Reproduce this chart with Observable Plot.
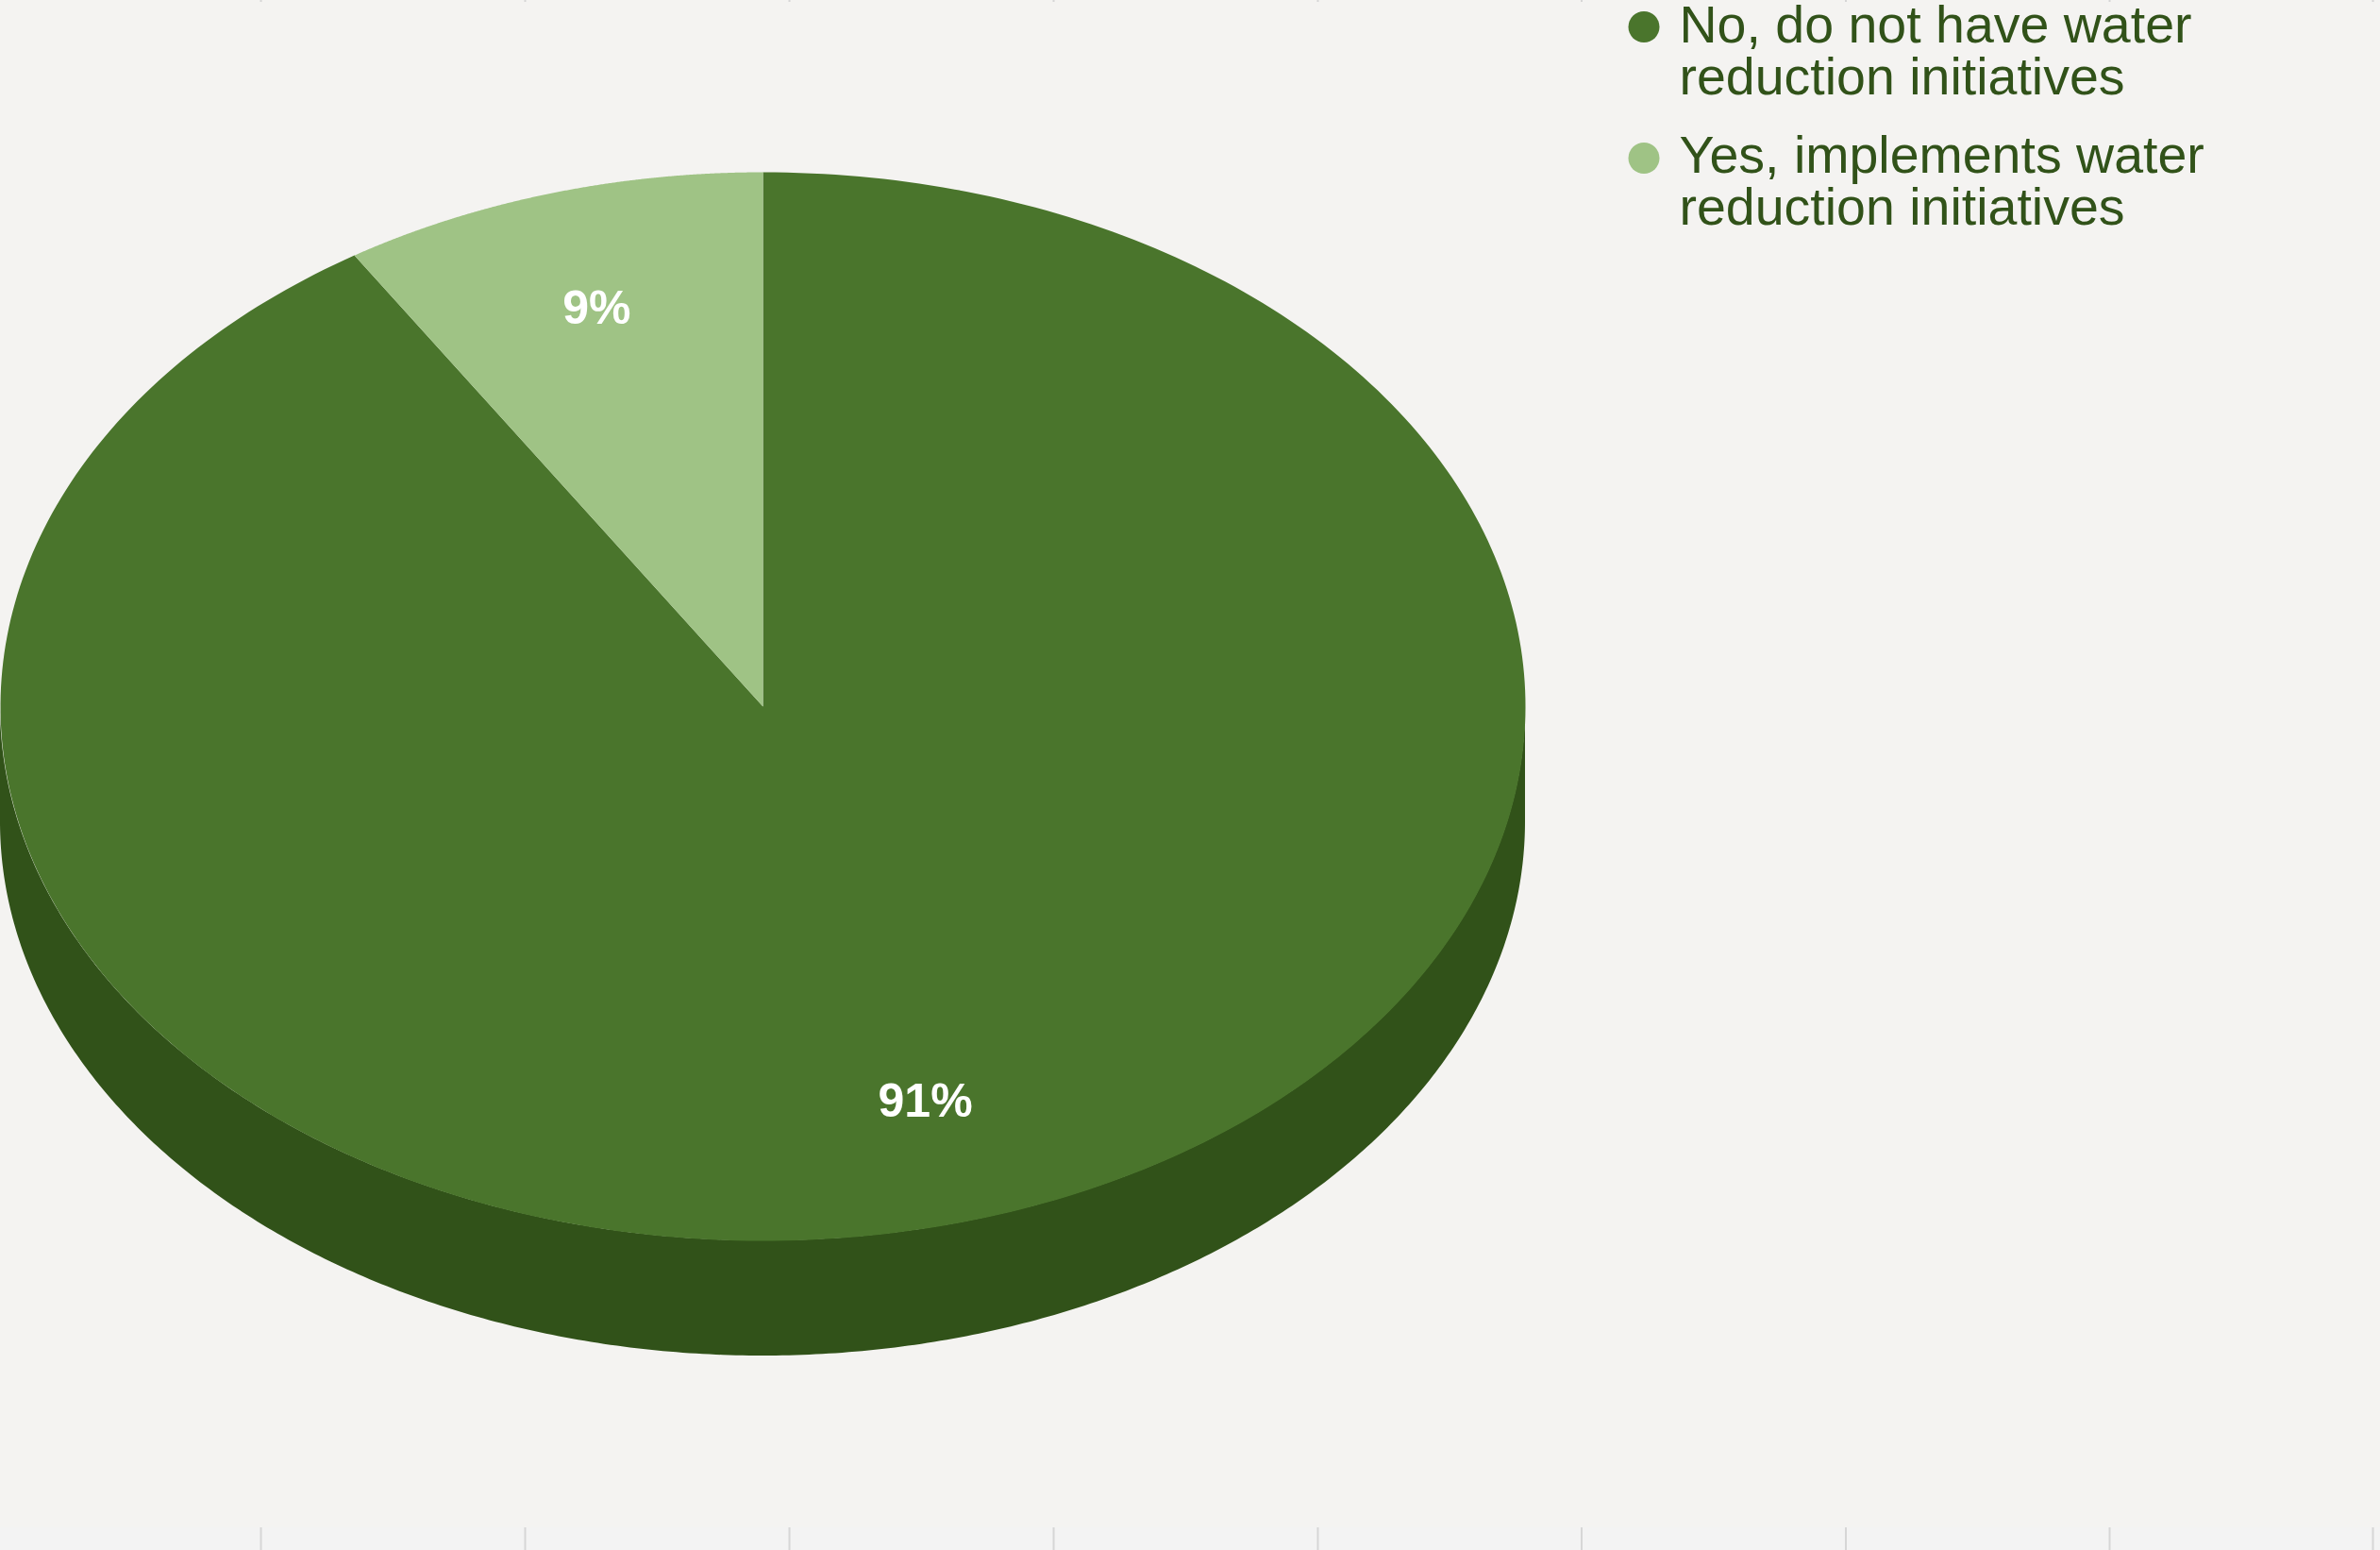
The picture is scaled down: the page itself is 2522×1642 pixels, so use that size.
<!DOCTYPE html>
<html>
<head>
<meta charset="utf-8">
<script src="https://cdn.jsdelivr.net/npm/d3@7"></script>
<script src="https://cdn.jsdelivr.net/npm/@observablehq/plot@0.6"></script>
<style>
html,body{margin:0;padding:0;background:#f4f3f1;}
svg{display:block;}
</style>
</head>
<body>
<div id="chart"></div>
<script>
const categories = ["No, do not have water\nreduction initiatives", "Yes, implements water\nreduction initiatives"];
const shares = [91, 9];
const sliceLabels = ["91%", "9%"];
const colors = ["#4a752c", "#9fc385"];
const tickPositions = [-0.6584, -0.3119, 0.0347, 0.3812, 0.7277, 1.0736, 1.4202, 1.7661, 2.1114];

const sideColor = "#315219";
const depth = 122 / 566;
const labelRadii = [0.77, 0.775];
const yBottomEdge = -(1642 - 748) / 566, yTickTop = -(1618 - 748) / 566;
const yTopEdge = 748 / 566, yTopTick = (748 - 2) / 566;
const xLeftEdge = -1, xRightEdge = (2522 - 808) / 808;

const rad = Math.PI / 180;
const total = d3.sum(shares);
let start = 0;
const slices = shares.map((s, i) => {
  const a0 = start, a1 = start + (s / total) * 360;
  start = a1;
  return {name: categories[i], label: sliceLabels[i], a0, a1, mid: (a0 + a1) / 2, r: labelRadii[i]};
});
const ring = (a0, a1) => d3.range(0, 361).map(k => a0 + (a1 - a0) * k / 360);
const slicePoints = slices.flatMap(s => [
  {name: s.name, x: 0, y: 0},
  ...ring(s.a0, s.a1).map(a => ({name: s.name, x: Math.sin(a * rad), y: Math.cos(a * rad)}))
]);
const rim = ring(90, 270).map(a => ({x: Math.sin(a * rad), y1: Math.cos(a * rad), y2: Math.cos(a * rad) - depth}));

const legendX = 1741.5, textX = 1779;
const legendDotY = [28, 167], legendTextY = [54.8, 192.8];

const chart = Plot.plot({
  width: 2522,
  height: 1642,
  margin: 0,
  style: {background: "transparent", overflow: "visible"},
  x: {domain: [-1, 1], range: [0, 1616], axis: null},
  y: {domain: [-1, 1], range: [1314, 182], axis: null},
  color: {domain: categories, range: colors},
  marks: [
    Plot.rect([0], {x1: xLeftEdge, x2: xRightEdge, y1: yBottomEdge, y2: yTickTop, fill: "#f3f3f3"}),
    Plot.ruleX(tickPositions, {x: d => d, y1: yBottomEdge, y2: yTickTop, stroke: "#d6d6d6", strokeWidth: 2}),
    Plot.ruleX(tickPositions, {x: d => d, y1: yTopEdge, y2: yTopTick, stroke: "#d6d6d6", strokeWidth: 2}),
    Plot.areaY(rim, {x: "x", y1: "y1", y2: "y2", fill: sideColor}),
    Plot.line(slicePoints, {x: "x", y: "y", z: "name", fill: "name", stroke: "none", curve: "linear-closed"}),
    Plot.text(slices, {
      x: d => d.r * Math.sin(d.mid * rad),
      y: d => d.r * Math.cos(d.mid * rad),
      dx: -1.5,
      text: "label", fill: "white", fontSize: 50, fontWeight: 700,
      fontFamily: "Liberation Sans", textAnchor: "middle", lineAnchor: "middle"
    }),
    ...categories.flatMap((c, i) => [
      Plot.dot([c], {fill: d => d, r: 16.5, stroke: "none", frameAnchor: "top-left", dx: legendX, dy: legendDotY[i]}),
      Plot.text([c], {
        text: d => d, fill: sideColor, fontSize: 55.5, lineHeight: 0.99, fontFamily: "Liberation Sans",
        textAnchor: "start", lineAnchor: "middle", frameAnchor: "top-left", dx: textX, dy: legendTextY[i]
      })
    ])
  ]
});
document.getElementById("chart").append(chart);
</script>
</body>
</html>
